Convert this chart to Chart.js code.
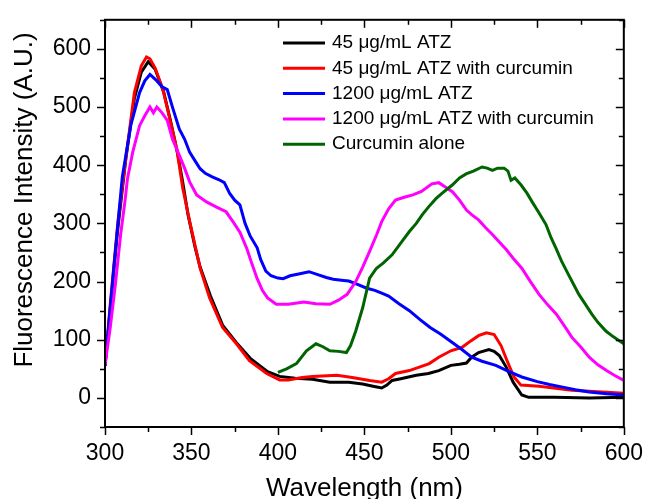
<!DOCTYPE html>
<html>
<head>
<meta charset="utf-8">
<script src="https://cdn.jsdelivr.net/npm/chart.js@4"></script>
<style>
  html, body { margin: 0; padding: 0; background: #fff; }
  #chart { display: block; }
</style>
</head>
<body>
<canvas id="chart" width="648" height="499"></canvas>
<script>
// values, one x/y pair of arrays per curve
const blackX = [300, 303, 307, 312, 317, 321, 325, 329, 334, 338, 342, 345, 348, 352, 355, 361, 368, 376, 384, 394, 401, 410, 420, 430, 441, 449, 455, 460, 463, 466, 471, 480, 487, 493, 500, 505, 509, 512, 516, 522, 525, 528, 532, 536, 541, 545, 560, 580, 600];
const blackY = [55, 150, 280, 410, 515, 560, 578, 565, 525, 475, 420, 370, 315, 260, 225, 175, 125, 95, 68, 45, 37, 34, 32, 27, 27, 24, 20, 17, 22, 30, 33, 39, 42, 47, 56, 58, 60, 70, 78, 83, 80, 73, 53, 27, 5, 1, 1, 0, 1];

const redX = [300, 303, 307.5, 312.5, 317, 321, 324, 326, 329, 333.5, 337.5, 341.5, 345, 349, 355, 360.5, 368, 376, 383.5, 393.5, 401, 406, 414, 420, 434, 443, 453, 460, 464, 468, 476, 487.5, 493, 500, 506.5, 511.5, 516, 520.5, 525, 529, 532.5, 536.5, 540.5, 551, 570, 600];
const redY = [55, 160, 303, 422, 525, 571, 586, 583, 567, 530, 479, 428, 360, 303, 223, 172, 121, 93, 64, 42, 31, 31, 35, 37, 39, 35, 30, 27, 33, 42, 47, 59, 70, 81, 87, 98, 107, 112, 109, 90, 64, 36, 22, 20, 13, 8];

const blueX = [300, 305, 310, 315, 320, 323, 326, 330, 333, 336, 339, 343, 346, 349, 352, 355, 358, 362, 366, 369, 372, 375, 378, 381, 384, 388, 390, 393, 396, 400, 403, 407, 412, 418, 423, 428, 432, 438, 441, 446, 451, 456, 460, 464, 470, 476, 482, 488, 494, 500, 506, 512, 518, 526, 533, 541, 550, 557, 564, 572, 580, 590, 600];
const blueY = [55, 220, 380, 470, 525, 545, 556, 545, 535, 530, 500, 462, 445, 422, 408, 394, 386, 380, 375, 370, 352, 340, 332, 300, 278, 258, 238, 218, 210, 206, 205, 210, 213, 217, 212, 207, 204, 202, 201, 195, 189, 185, 180, 175, 162, 150, 135, 121, 110, 97, 84, 70, 63, 56, 46, 36, 28, 23, 19, 14, 10, 7, 5];

const pinkX = [300, 303, 306, 309, 311.5, 313, 316, 320, 323, 326, 328, 330, 333, 336, 339, 343, 346, 349, 353, 358.7, 364.5, 370, 374, 378, 382, 385, 388, 391, 394, 399, 406, 415, 422, 430, 435, 440, 445, 449, 453, 457, 460, 464, 468, 473, 478, 483, 489, 493, 497, 501, 505, 509, 512, 516, 520, 524, 528, 532, 536, 541, 546, 551, 556, 561, 566, 570, 575, 580, 585, 590, 595, 600];
const pinkY = [57, 120, 195, 280, 337, 377, 422, 468, 485, 500, 490, 500, 490, 477, 445, 417, 395, 371, 349, 337, 328, 320, 303, 285, 257, 230, 205, 185, 172, 161, 161, 165, 162, 161, 168, 178, 200, 225, 252, 280, 303, 325, 340, 345, 349, 355, 368, 370, 362, 354, 340, 323, 315, 306, 293, 281, 268, 255, 240, 223, 200, 178, 160, 144, 122, 104, 88, 70, 57, 47, 38, 30];

const greenX = [400, 405, 410.7, 416.5, 422, 426, 430, 435, 439.6, 442, 445, 449, 453, 457, 461, 466, 471, 476, 480, 483.5, 487, 491.5, 495, 500.8, 505, 508.8, 513, 518, 521, 524, 527, 530.8, 533, 534.8, 537, 540.6, 544, 547, 551, 555, 558, 560.8, 564, 568, 571, 574, 578, 581.5, 585, 589.6, 594, 600];
const greenY = [44, 50, 59, 81, 93, 88, 81, 80, 78, 90, 115, 155, 206, 223, 232, 246, 266, 286, 300, 315, 328, 343, 352, 366, 378, 385, 390, 397, 395, 391, 395, 395, 390, 374, 378, 366, 352, 337, 318, 298, 275, 257, 235, 212, 195, 178, 160, 144, 130, 115, 105, 93];

const seriesNames = ['45 μg/mL ATZ', '45 μg/mL ATZ with curcumin', '1200 μg/mL ATZ', '1200 μg/mL ATZ with curcumin', 'Curcumin alone'];
const seriesColors = ['#000000', '#FF0000', '#0000FF', '#FF00FF', '#006400'];
const seriesX = [blackX, redX, blueX, pinkX, greenX];
const seriesY = [blackY, redY, blueY, pinkY, greenY];

const FONT = '"Liberation Sans", Arial, sans-serif';

const toPoints = (xs, ys) => xs.map((x, i) => ({ x, y: ys[i] }));

// box, in/out ticks, legend and axis titles
const framePlugin = {
    id: 'frame',
    afterDraw(chart) {
        const { ctx, chartArea: a, scales: { x, y } } = chart;
        ctx.save();
        ctx.strokeStyle = '#000';
        ctx.lineWidth = 2;
        ctx.strokeRect(a.left, a.top, a.right - a.left, a.bottom - a.top);

        ctx.lineWidth = 1.5;
        const seg = (x1, y1, x2, y2) => {
            ctx.beginPath();
            ctx.moveTo(x1, y1);
            ctx.lineTo(x2, y2);
            ctx.stroke();
        };
        x.ticks.forEach((t) => {
            const px = Math.round(x.getPixelForValue(t.value)) + 0.5;
            const len = t.value % 50 === 0 ? 8 : 5;
            seg(px, a.bottom, px, a.bottom + len);
            seg(px, a.top, px, a.top + len);
        });
        y.ticks.forEach((t) => {
            const py = Math.round(y.getPixelForValue(t.value)) + 0.5;
            const len = t.value % 100 === 0 ? 8 : 5;
            seg(a.left - len, py, a.left, py);
            seg(a.right - len, py, a.right, py);
        });

        // legend
        ctx.font = '19px ' + FONT;
        ctx.textBaseline = 'middle';
        ctx.textAlign = 'left';
        ctx.lineWidth = 3;
        seriesNames.forEach((name, i) => {
            const ly = 43 + i * 25.3;
            ctx.strokeStyle = seriesColors[i];
            seg(283, ly, 325, ly);
            ctx.fillStyle = '#000';
            ctx.fillText(name, 332, ly);
        });

        // axis titles
        ctx.fillStyle = '#000';
        ctx.font = '26px ' + FONT;
        ctx.textAlign = 'center';
        ctx.textBaseline = 'alphabetic';
        ctx.fillText('Wavelength (nm)', (a.left + a.right) / 2, 496);
        ctx.translate(32, 200);
        ctx.rotate(-Math.PI / 2);
        ctx.fillText('Fluorescence Intensity (A.U.)', 0, 0);
        ctx.restore();
    }
};

const datasets = seriesNames.map((name, i) => ({
    label: name,
    data: toPoints(seriesX[i], seriesY[i]),
    borderColor: seriesColors[i],
    backgroundColor: seriesColors[i],
    borderWidth: 3,
    pointRadius: 0,
    tension: 0,
    fill: false,
    order: seriesNames.length - i
}));

new Chart(document.getElementById('chart'), {
    type: 'line',
    data: { datasets },
    options: {
        responsive: false,
        devicePixelRatio: 1,
        animation: false,
        layout: { padding: { top: 16, right: 23, left: 0, bottom: 0 } },
        plugins: {
            legend: { display: false },
            tooltip: { enabled: false }
        },
        scales: {
            x: {
                type: 'linear',
                min: 300,
                max: 600,
                grid: { display: true, drawOnChartArea: false, color: 'rgba(0,0,0,0)', tickLength: 8 },
                border: { display: false },
                ticks: {
                    stepSize: 25,
                    autoSkip: false,
                    maxRotation: 0,
                    padding: 5,
                    color: '#000',
                    font: { family: FONT, size: 23 },
                    callback: (v) => (v % 50 === 0 ? v : '')
                },
                afterFit: (s) => { s.height = 72; }
            },
            y: {
                type: 'linear',
                min: -50,
                max: 650,
                grid: { display: true, drawOnChartArea: false, color: 'rgba(0,0,0,0)', tickLength: 8 },
                border: { display: false },
                ticks: {
                    stepSize: 50,
                    autoSkip: false,
                    padding: 6,
                    color: '#000',
                    font: { family: FONT, size: 23 },
                    callback: (v) => (v % 100 === 0 && v >= 0 && v <= 600 ? v : '')
                },
                afterFit: (s) => { s.width = 105; }
            }
        }
    },
    plugins: [framePlugin]
});
</script>
</body>
</html>
